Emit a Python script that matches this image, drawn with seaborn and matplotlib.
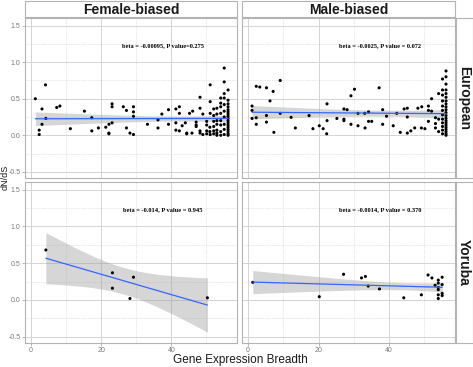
import numpy as np
import pandas as pd
import matplotlib
matplotlib.use("Agg")
import matplotlib.pyplot as plt
import seaborn as sns

# ---------------- data ----------------
fe_x = [1.2, 2.3, 2.3, 3.1, 3.1, 4.1, 4.2, 7.3, 8.2, 11.2, 15.2, 17.3, 17.3, 19.2, 21.3,
        22.2, 22.2, 22.2, 23.1, 23.1, 23.1, 26.3, 27.2, 27.2, 28.2, 29.2, 29.2, 29.2, 29.2,
        33.2, 36.2, 36.2, 37.3, 39.2, 39.2, 41.3, 41.3, 41.3, 42.3, 42.3, 42.3, 43.1, 44.0,
        44.4, 44.4, 45.2, 45.9, 46.1, 47.1, 47.1, 47.1, 48.2, 48.2, 48.2, 48.2, 49.0, 49.0,
        50.1, 50.1, 50.1, 50.1, 51.0, 51.0, 51.1, 51.1, 51.1, 51.1,
        52.1, 52.1, 52.1, 52.1, 52.1, 52.1,
        53.0, 53.0, 53.0, 53.0, 53.0, 53.0, 53.0,
        54.1, 54.1, 54.1, 54.1, 54.1, 54.1, 54.1, 54.1,
        55.1, 55.1, 55.1, 55.1, 55.1, 55.1, 55.1, 55.1, 55.1, 55.1,
        56.2, 56.2, 56.2, 56.2, 56.2, 56.2, 56.2, 56.2, 56.2, 56.2, 56.2, 56.2, 56.2, 56.2,
        56.2, 56.2, 56.2]
fe_y = [0.50, 0.07, 0.01, 0.36, 0.15, 0.69, 0.23, 0.38, 0.40, 0.09, 0.33, 0.24, 0.06, 0.10, 0.11,
        0.15, 0.03, 0.02, 0.43, 0.39, 0.17, 0.39, 0.34, 0.10, 0.03, 0.39, 0.32, 0.26, 0.01,
        0.15, 0.21, 0.10, 0.29, 0.35, 0.15, 0.36, 0.17, 0.07, 0.39, 0.30, 0.06, 0.13, 0.17,
        0.03, 0.02, 0.30, 0.03, 0.33, 0.18, 0.14, 0.12, 0.52, 0.37, 0.06, 0.03, 0.29, 0.01,
        0.19, 0.14, 0.06, 0.02, 0.11, 0.05, 0.69, 0.46, 0.30, 0.01,
        0.36, 0.27, 0.19, 0.12, 0.06, 0.02,
        0.37, 0.29, 0.20, 0.15, 0.07, 0.03, 0.00,
        0.51, 0.44, 0.39, 0.30, 0.20, 0.14, 0.05, 0.00,
        0.92, 0.73, 0.57, 0.51, 0.42, 0.33, 0.25, 0.15, 0.08, 0.01,
        0.62, 0.48, 0.43, 0.39, 0.35, 0.32, 0.29, 0.26, 0.23, 0.20, 0.17, 0.14, 0.11, 0.08,
        0.05, 0.02, 0.00]

me_x = [1.1, 1.1, 1.1, 2.3, 2.3, 2.3, 3.3, 5.2, 5.2, 5.2, 6.2, 7.1, 7.3, 9.1, 9.1, 12.2, 13.4,
        17.3, 18.4, 20.2, 21.3, 22.4, 22.4, 22.3, 25.2, 27.2, 28.1, 27.2, 27.2, 29.2, 30.2,
        29.2, 31.2, 31.2, 33.1, 34.2, 33.2, 34.2, 35.1, 37.2, 38.2, 39.3, 38.2, 41.2, 42.2,
        43.2, 44.3, 45.2, 45.2, 45.2, 46.2, 47.3, 48.2, 49.3, 49.2, 50.2, 51.2, 51.2, 52.1,
        51.2, 52.1, 53.2, 53.2, 53.2, 54.1, 54.1, 54.1,
        55.2, 55.2, 55.2, 55.2, 55.2, 55.2, 55.2, 55.2, 55.2, 55.2, 55.2, 55.2,
        56.2, 56.2, 56.2, 56.2, 56.2, 56.2, 56.2, 56.2, 56.2, 56.2, 56.2, 56.2, 56.2, 56.2,
        56.2, 56.2, 56.2, 56.2, 56.2, 56.2, 56.2]
me_y = [0.40, 0.34, 0.23, 0.24, 0.15, 0.67, 0.66, 0.65, 0.27, 0.18, 0.47, 0.60, 0.04, 0.75, 0.30,
        0.245, 0.10, 0.27, 0.09, 0.13, 0.09, 0.43, 0.20, 0.02, 0.23, 0.36, 0.35, 0.22, 0.20,
        0.54, 0.63, 0.15, 0.30, 0.13, 0.30, 0.32, 0.10, 0.19, 0.19, 0.65, 0.35, 0.26, 0.15,
        0.13, 0.30, 0.04, 0.36, 0.37, 0.25, 0.03, 0.06, 0.10, 0.37, 0.39, 0.10, 0.09, 0.40,
        0.34, 0.33, 0.19, 0.50, 0.24, 0.16, 0.10, 0.57, 0.22, 0.05,
        0.77, 0.62, 0.55, 0.47, 0.40, 0.34, 0.28, 0.22, 0.17, 0.12, 0.07, 0.02,
        0.88, 0.80, 0.70, 0.62, 0.57, 0.52, 0.47, 0.43, 0.39, 0.35, 0.31, 0.27, 0.23, 0.20,
        0.17, 0.14, 0.11, 0.08, 0.05, 0.02, 0.00]

fy_x = [4.2, 23.2, 23.2, 28.2, 29.2, 50.3]
fy_y = [0.68, 0.37, 0.16, 0.02, 0.31, 0.03]

my_x = [1.3, 20.2, 27.1, 32.2, 33.3, 34.1, 37.3, 44.2, 49.2, 51.1, 52.2, 53.1,
        54.0, 54.0, 54.0, 54.0, 54.0, 54.0, 55.1, 55.1, 55.1, 55.1]
my_y = [0.24, 0.045, 0.35, 0.30, 0.32, 0.19, 0.15, 0.03, 0.07, 0.34, 0.30, 0.20,
        0.27, 0.23, 0.17, 0.14, 0.07, 0.02, 0.31, 0.21, 0.09, 0.06]

col_labels = ["Female-biased", "Male-biased"]
row_labels = ["European", "Yoruba"]
annotations = [["beta = -0.00095, P value=0.275", "beta = -0.0025, P value = 0.072"],
               ["beta = -0.014, P value = 0.945", "beta = -0.0014, P value = 0.370"]]
x_ticks = [0, 20, 40]
y_ticks = [-0.5, 0.0, 0.5, 1.0, 1.5]
x_label = "Gene Expression Breadth"
y_label = "dN/dS"

panels = [[(fe_x, fe_y), (me_x, me_y)], [(fy_x, fy_y), (my_x, my_y)]]

# ---------------- helpers ----------------
def t975(df):
    try:
        from scipy import stats
        return stats.t.ppf(0.975, df)
    except Exception:
        z = 1.959964
        return (z + (z**3 + z) / (4 * df)
                + (5 * z**5 + 16 * z**3 + 3 * z) / (96 * df**2)
                + (3 * z**7 + 19 * z**5 + 17 * z**3 - 15 * z) / (384 * df**3))

def lm_fit(x, y):
    x = np.asarray(x, float); y = np.asarray(y, float)
    n = len(x)
    b, a = np.polyfit(x, y, 1)
    res = y - (a + b * x)
    s = np.sqrt(np.sum(res**2) / (n - 2))
    sxx = np.sum((x - x.mean())**2)
    gx = np.linspace(x.min(), x.max(), 80)
    gy = a + b * gx
    se = s * np.sqrt(1.0 / n + (gx - x.mean())**2 / sxx)
    t = t975(n - 2)
    return gx, gy, gy - t * se, gy + t * se

# ---------------- figure ----------------
sns.set_theme(style="white")
plt.rcParams['font.family'] = ['Liberation Sans', 'DejaVu Sans']

W, H = 473, 367
fig = plt.figure(figsize=(W / 100, H / 100), dpi=100)

def fa(x0, y0, x1, y1):
    # pixel box (top-left origin) -> figure fraction axes
    return fig.add_axes([x0 / W, 1 - y1 / H, (x1 - x0) / W, (y1 - y0) / H])

col_x = [(25, 237), (242, 455)]
row_y = [(18, 178), (182, 343)]
border = '#b3b3b3'

for r in range(2):
    for c in range(2):
        ax = fa(col_x[c][0], row_y[r][0], col_x[c][1], row_y[r][1])
        x, y = panels[r][c]
        df = pd.DataFrame({"x": x, "y": y})
        gx, gy, lo, hi = lm_fit(x, y)
        ax.fill_between(gx, lo, hi, color='#999999', alpha=0.4, lw=0, zorder=2)
        sns.scatterplot(data=df, x="x", y="y", ax=ax, color='black', s=5,
                        edgecolor='none', linewidth=0, zorder=3)
        sns.lineplot(x=gx, y=gy, ax=ax, color='#3366FF', lw=0.9, zorder=4)
        ax.set_xlim(-1.75, 58.75)
        ax.set_ylim(-0.585, 1.605)
        ax.set_xticks(x_ticks)
        ax.set_yticks(y_ticks)
        ax.set_xticks([10, 30, 50], minor=True)
        ax.set_yticks([-0.25, 0.25, 0.75, 1.25], minor=True)
        ax.grid(True, which='major', color='#d4d4d4', lw=0.7, ls='-', zorder=0)
        ax.grid(True, which='minor', color='#d0d0d0', lw=0.5, ls=(0, (1, 1.5)), zorder=0)
        ax.set_axisbelow(True)
        ax.set_facecolor('white')
        for sp in ax.spines.values():
            sp.set_color(border)
            sp.set_linewidth(0.8)
        ax.tick_params(which='minor', length=0)
        ax.tick_params(which='major', length=2, width=0.5, color='#999999',
                       labelsize=5, labelcolor='#7a7a7a', pad=1.2)
        if c == 0:
            ax.tick_params(axis='y', left=True)
            ax.set_yticklabels([f"{v:.1f}" for v in y_ticks])
        else:
            ax.tick_params(axis='y', left=False, labelleft=False)
        if r == 1:
            ax.tick_params(axis='x', bottom=True)
            ax.set_xticklabels([str(v) for v in x_ticks])
        else:
            ax.tick_params(axis='x', bottom=False, labelbottom=False)
        ax.set_xlabel("")
        ax.set_ylabel("")
        ax.text(37.5, 1.23, annotations[r][c], ha='center', va='center',
                fontsize=4.6, fontweight='bold', family=['Liberation Serif', 'DejaVu Serif'],
                color='black', zorder=5)

# strips
for c in range(2):
    sax = fa(col_x[c][0], 1, col_x[c][1], 17)
    sax.set_xticks([]); sax.set_yticks([])
    sax.set_facecolor('white')
    for sp in sax.spines.values():
        sp.set_color(border); sp.set_linewidth(0.8)
    sax.text(0.5, 0.45, col_labels[c], ha='center', va='center', fontsize=10,
             fontweight='bold', color='#1a1a1a', transform=sax.transAxes)
for r in range(2):
    sax = fa(456, row_y[r][0], 472.5, row_y[r][1])
    sax.set_xticks([]); sax.set_yticks([])
    sax.set_facecolor('white')
    for sp in sax.spines.values():
        sp.set_color(border); sp.set_linewidth(0.8)
    sax.text(0.5, 0.5, row_labels[r], ha='center', va='center', fontsize=10,
             fontweight='bold', color='#1a1a1a', rotation=-90, transform=sax.transAxes)

fig.text(240 / W, 1 - 360 / H, x_label, ha='center', va='center', fontsize=8.5, color='#1a1a1a')
fig.text(5 / W, 1 - 177 / H, y_label, ha='center', va='center', fontsize=6.5,
         rotation=90, color='#1a1a1a')

fig.savefig("out.png", dpi=100, facecolor='white')
